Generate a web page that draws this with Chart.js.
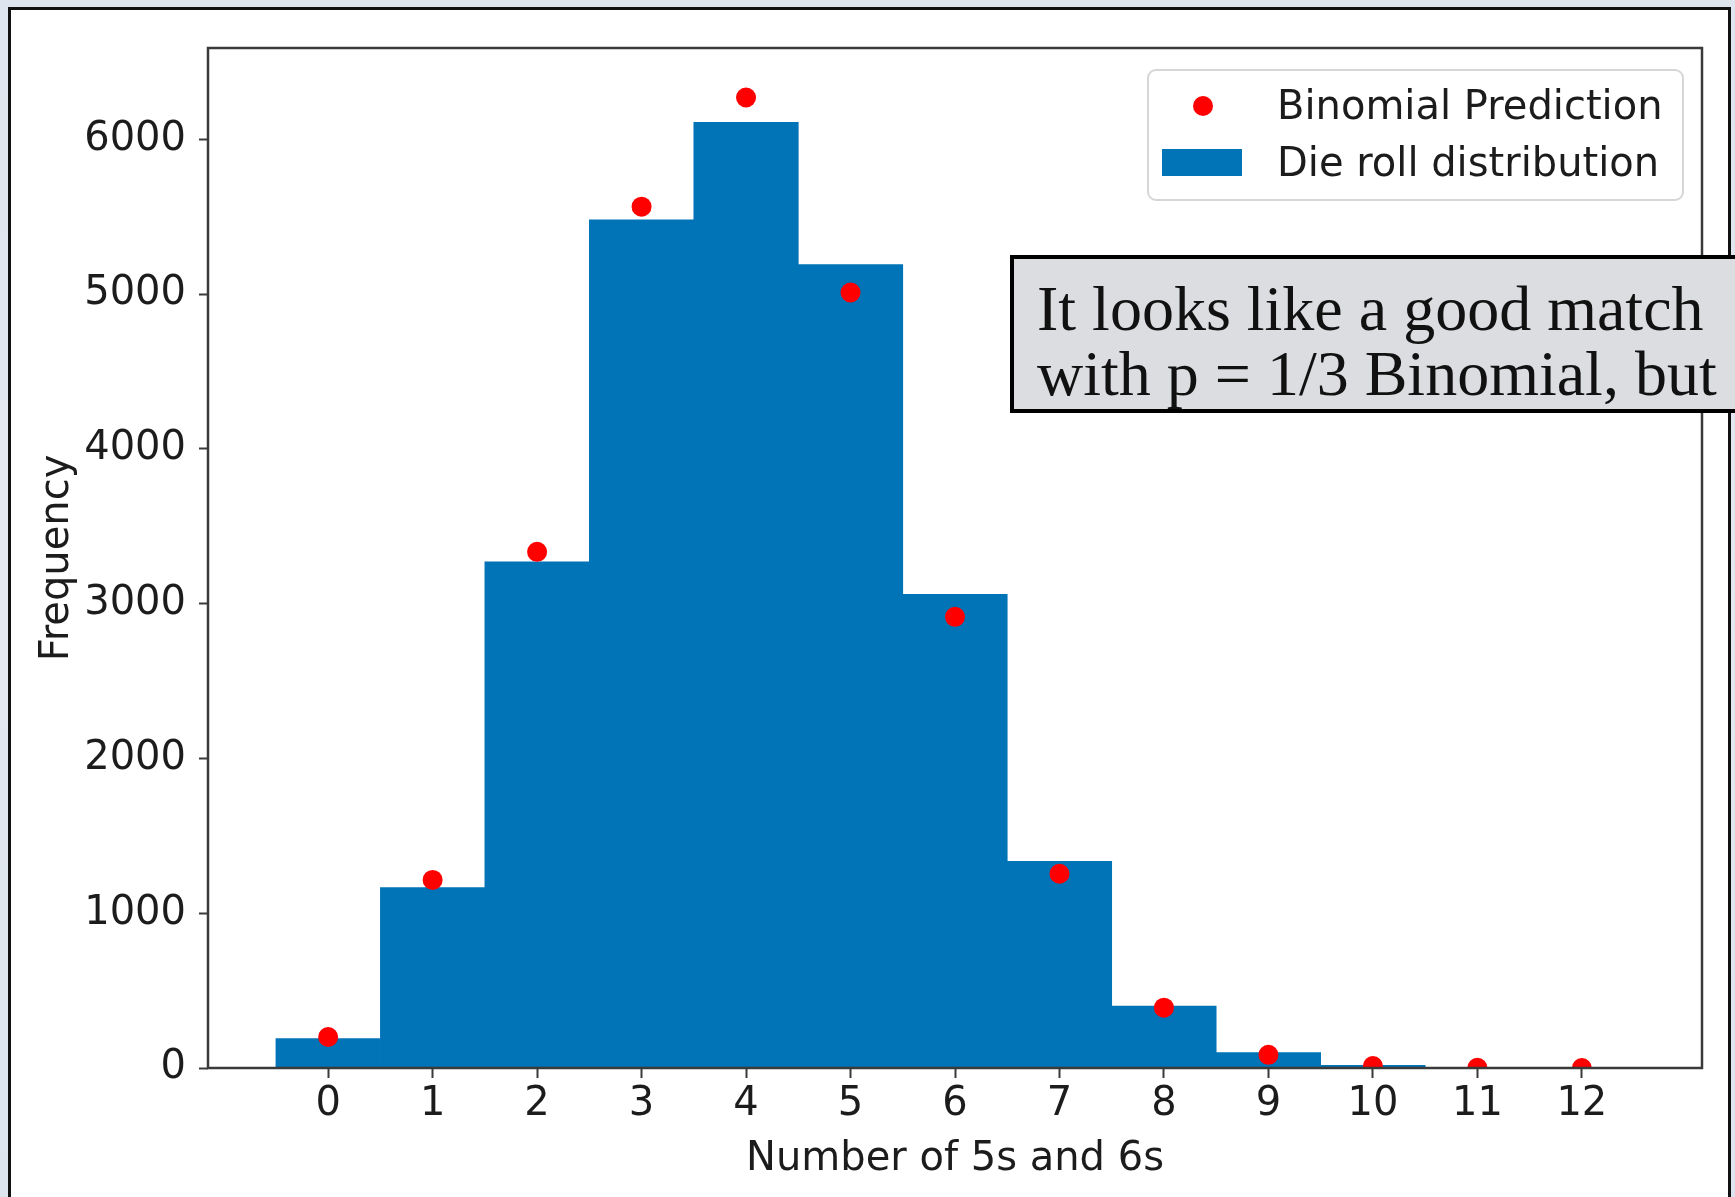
<!DOCTYPE html>
<html>
<head>
<meta charset="utf-8">
<title>Die roll distribution</title>
<script src="https://cdn.jsdelivr.net/npm/chart.js@4.4.1/dist/chart.umd.min.js"></script>
<style>
  html, body { margin: 0; padding: 0; }
  body {
    width: 1735px; height: 1197px; overflow: hidden; position: relative;
    background: linear-gradient(180deg, #dfe5ee 0%, #e3e8f0 50%, #dde4ed 100%);
  }
  .sheet {
    position: absolute; left: 8px; top: 7px; width: 1723px; height: 1240px;
    background: #ffffff; border: 3px solid #111; box-sizing: border-box;
  }
  #chart { position: absolute; left: 0; top: 0; }
  .note {
    position: absolute; left: 1010px; top: 255px; width: 800px; height: 158px;
    background: #dcdde0; border: 4px solid #000; box-sizing: border-box;
    font-family: "Liberation Serif", "DejaVu Serif", serif; font-size: 64px; color: #111;
  }
  .note div { position: absolute; left: 23px; white-space: nowrap; line-height: 1; }
</style>
</head>
<body>
<div class="sheet"></div>
<canvas id="chart" width="1735" height="1197"></canvas>
<div class="note">
  <div style="top:18px">It looks like a good match</div>
  <div style="top:83px">with p = 1/3 Binomial, but</div>
</div>
<script>
// Number of 5s and 6s (bin centres of the histogram)
const binCenters = [0, 1, 2, 3, 4, 5, 6, 7, 8, 9, 10, 11, 12];
// Observed histogram counts
const dieRollCounts = [190, 1165, 3270, 5480, 6110, 5190, 3060, 1335, 400, 100, 18, 0, 0];
// Expected counts from the binomial model
const binomialPrediction = [200, 1215, 3335, 5565, 6270, 5010, 2915, 1255, 390, 85, 13, 1, 0];
// Axis ticks
const xTickValues = [0, 1, 2, 3, 4, 5, 6, 7, 8, 9, 10, 11, 12];
const yTickValues = [0, 1000, 2000, 3000, 4000, 5000, 6000];

const seriesNames = ['Binomial Prediction', 'Die roll distribution'];
const barColor = '#0173b7';
const dotColor = '#ff0000';
const textColor = '#1c1c1c';
const baseFont = { family: '"DejaVu Sans", sans-serif', size: 40 };

const frameAndLegend = {
  id: 'frameAndLegend',
  afterDatasetsDraw(chart) {
    const { ctx, chartArea: a } = chart;
    ctx.save();
    ctx.strokeStyle = '#3a3a3a';
    ctx.lineWidth = 2.5;
    ctx.strokeRect(a.left, a.top, a.right - a.left, a.bottom - a.top);
    ctx.restore();
  },
  afterDraw(chart) {
    const { ctx } = chart;
    ctx.save();
    // legend box
    const bx = 1148, by = 70, bw = 535, bh = 130, r = 8;
    ctx.beginPath();
    ctx.moveTo(bx + r, by);
    ctx.arcTo(bx + bw, by, bx + bw, by + bh, r);
    ctx.arcTo(bx + bw, by + bh, bx, by + bh, r);
    ctx.arcTo(bx, by + bh, bx, by, r);
    ctx.arcTo(bx, by, bx + bw, by, r);
    ctx.closePath();
    ctx.fillStyle = 'rgba(255,255,255,0.85)';
    ctx.fill();
    ctx.strokeStyle = '#d6d6d6';
    ctx.lineWidth = 2;
    ctx.stroke();
    // markers
    ctx.fillStyle = dotColor;
    ctx.beginPath();
    ctx.arc(1203, 106, 10, 0, Math.PI * 2);
    ctx.fill();
    ctx.fillStyle = barColor;
    ctx.fillRect(1162, 149, 80, 27);
    // labels
    ctx.fillStyle = textColor;
    ctx.font = '40px "DejaVu Sans", sans-serif';
    ctx.textBaseline = 'middle';
    ctx.textAlign = 'left';
    ctx.fillText(seriesNames[0], 1277, 109);
    ctx.fillText(seriesNames[1], 1277, 166);
    ctx.restore();
  }
};

new Chart(document.getElementById('chart'), {
  type: 'bar',
  data: {
    datasets: [
      {
        type: 'scatter',
        label: seriesNames[0],
        data: binCenters.map((x, i) => ({ x, y: binomialPrediction[i] })),
        backgroundColor: dotColor,
        borderWidth: 0,
        pointRadius: 10,
        pointHoverRadius: 10,
        clip: 0,
        order: 0
      },
      {
        type: 'bar',
        label: seriesNames[1],
        data: binCenters.map((x, i) => ({ x, y: dieRollCounts[i] })),
        backgroundColor: barColor,
        borderWidth: 0,
        barPercentage: 1,
        categoryPercentage: 1,
        order: 1
      }
    ]
  },
  options: {
    responsive: false,
    animation: false,
    events: [],
    layout: { padding: { left: 0, top: 48, right: 33, bottom: 0 } },
    plugins: { legend: { display: false }, tooltip: { enabled: false } },
    scales: {
      x: {
        type: 'linear',
        min: -1.15,
        max: 13.15,
        offset: false,
        grid: { display: true, offset: false, drawOnChartArea: false, drawTicks: true, tickLength: 10, tickColor: '#3a3a3a', tickWidth: 2 },
        border: { display: false },
        ticks: { font: baseFont, color: textColor, padding: 3, maxRotation: 0, autoSkip: false,
                  callback: v => String(v) },
        afterBuildTicks: s => { s.ticks = xTickValues.map(v => ({ value: v })); },
        afterFit: s => { s.height = 129; },
        title: { display: true, text: 'Number of 5s and 6s', font: baseFont, color: textColor,
                 padding: { top: 0, bottom: 13 } }
      },
      y: {
        type: 'linear',
        min: 0,
        max: 6590,
        grid: { display: true, drawOnChartArea: false, drawTicks: true, tickLength: 9, tickColor: '#3a3a3a', tickWidth: 2 },
        border: { display: false },
        ticks: { font: baseFont, color: textColor, padding: 13, autoSkip: false,
                 callback: v => String(v) },
        afterBuildTicks: s => { s.ticks = yTickValues.map(v => ({ value: v })); },
        afterFit: s => { s.width = 208; },
        title: { display: true, text: 'Frequency', font: baseFont, color: textColor,
                 padding: { top: 34, bottom: 0 } }
      }
    }
  },
  plugins: [frameAndLegend]
});
</script>
</body>
</html>
